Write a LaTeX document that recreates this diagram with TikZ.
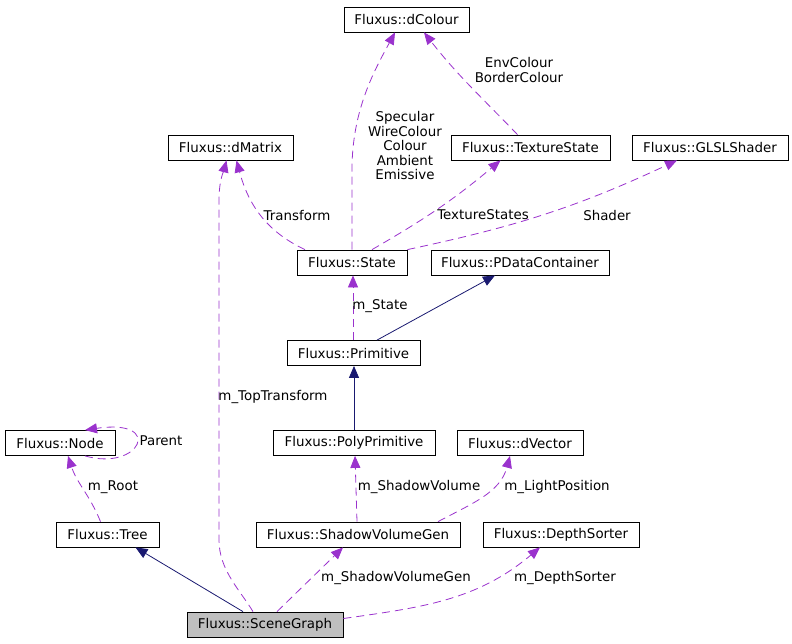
\documentclass[tikz,border=0pt]{standalone}
\usepackage{fontspec}
\setmainfont{DejaVu Sans}
\usetikzlibrary{arrows.meta}
\definecolor{usecol}{HTML}{9A32CD}
\definecolor{inhcol}{HTML}{191970}
\definecolor{hl}{HTML}{BFBFBF}
\tikzset{
  cls/.style={draw=black, line width=0.8pt, minimum height=25pt, inner sep=0pt, anchor=center},
  lbl/.style={inner sep=0pt, align=center},
  usage/.style={draw=usecol, line width=0.8pt, dash pattern=on 8pt off 5pt, -{Triangle[length=12pt,width=10pt,fill=usecol]}},
  inher/.style={draw=inhcol, line width=0.8pt, -{Triangle[length=12pt,width=10pt,fill=inhcol]}}
}
\begin{document}
\begin{tikzpicture}[x=1pt,y=1pt,font=\fontsize{13.4}{14.5}\selectfont]
\useasboundingbox (0,0) rectangle (792,-643);
% classes
\node[cls, minimum width=125pt] (dColour) at (406.5,-19.5) {Fluxus::dColour};
\node[cls, minimum width=125pt] (dMatrix) at (230.5,-147.5) {Fluxus::dMatrix};
\node[cls, minimum width=159pt] (TextureState) at (530.5,-147.5) {Fluxus::TextureState};
\node[cls, minimum width=156pt] (GLSLShader) at (710,-147.5) {Fluxus::GLSLShader};
\node[cls, minimum width=110pt] (State) at (352,-262.5) {Fluxus::State};
\node[cls, minimum width=178pt] (PDataContainer) at (520,-262.5) {Fluxus::PDataContainer};
\node[cls, minimum width=133pt] (Primitive) at (353.5,-353) {Fluxus::Primitive};
\node[cls, minimum width=110pt] (Node) at (60,-443) {Fluxus::Node};
\node[cls, minimum width=162pt] (PolyPrimitive) at (354,-443) {Fluxus::PolyPrimitive};
\node[cls, minimum width=126pt] (dVector) at (520,-443) {Fluxus::dVector};
\node[cls, minimum width=103pt] (Tree) at (107.5,-534.5) {Fluxus::Tree};
\node[cls, minimum width=204pt] (ShadowVolumeGen) at (358,-534.5) {Fluxus::ShadowVolumeGen};
\node[cls, minimum width=156pt] (DepthSorter) at (561,-534.5) {Fluxus::DepthSorter};
\node[cls, minimum width=156pt, fill=hl] (SceneGraph) at (265,-624.5) {Fluxus::SceneGraph};
% inheritance
\draw[inher] ([xshift=-22pt]SceneGraph.north) -- ([xshift=28pt]Tree.south);
\draw[inher] (PolyPrimitive.north) -- ([xshift=0.5pt]Primitive.south);
\draw[inher] ([xshift=23.5pt]Primitive.north) -- ([xshift=-25pt]PDataContainer.south);
% usage
\draw[usage] ([xshift=-12pt]SceneGraph.north) .. controls (240,-590) and (219,-570) .. (219,-540) -- (219,-200) .. controls (219,-180) and (224,-170) .. ([xshift=-4pt]dMatrix.south);
\draw[usage] ([xshift=12pt]SceneGraph.north) -- ([xshift=-15pt]ShadowVolumeGen.south);
\draw[usage] ([yshift=6pt]SceneGraph.east) to[out=8,in=-140] ([xshift=-21pt]DepthSorter.south);
\draw[usage] ([xshift=-7pt]Tree.north) to[out=112,in=-72] ([xshift=8pt]Node.south);
\draw[usage] ([xshift=25pt]Node.south) .. controls +(55,-16) and +(80,12) .. ([xshift=25pt]Node.north);
\draw[usage] ([xshift=-1pt]ShadowVolumeGen.north) -- ([xshift=1pt]PolyPrimitive.south);
\draw[usage] ([xshift=80pt]ShadowVolumeGen.north) to[out=28,in=-105] ([xshift=-10pt]dVector.south);
\draw[usage] ([xshift=-0.5pt]Primitive.north) -- ([xshift=1pt]State.south);
\draw[usage] ([xshift=-47pt]State.north) to[out=155,in=-75] ([xshift=6pt]dMatrix.south);
\draw[usage] (State.north) -- ++(0,80) .. controls +(0,60) and +(-20,-37) .. ([xshift=-11.5pt]dColour.south);
\draw[usage] ([xshift=20pt]State.north) to[out=30,in=-140] ([xshift=-30pt]TextureState.south);
\draw[usage] (State.north east) to[out=12,in=-155] ([xshift=-33pt]GLSLShader.south);
\draw[usage] ([xshift=-13pt]TextureState.north) to[out=134,in=-52] ([xshift=17.5pt]dColour.south);
% labels
\node[lbl] (lTop) at (273,-397) {m\_TopTransform};
\node[lbl] (lRoot) at (113,-487) {m\_Root};
\node[lbl] (lParent) at (161,-441) {Parent};
\node[lbl] (lSV) at (419,-487) {m\_ShadowVolume};
\node[lbl] (lLP) at (557,-487) {m\_LightPosition};
\node[lbl] (lSVG) at (396,-578) {m\_ShadowVolumeGen};
\node[lbl] (lDS) at (565,-578) {m\_DepthSorter};
\node[lbl] (lState) at (380,-306) {m\_State};
\node[lbl] (lTr) at (297,-215) {Transform};
\node[lbl] (lTS) at (483,-215) {TextureStates};
\node[lbl] (lSh) at (607,-215) {Shader};
\node[lbl] (lCol) at (405,-146) {Specular\\WireColour\\Colour\\Ambient\\Emissive};
\node[lbl] (lEnv) at (519,-70) {EnvColour\\BorderColour};
\end{tikzpicture}
\end{document}
